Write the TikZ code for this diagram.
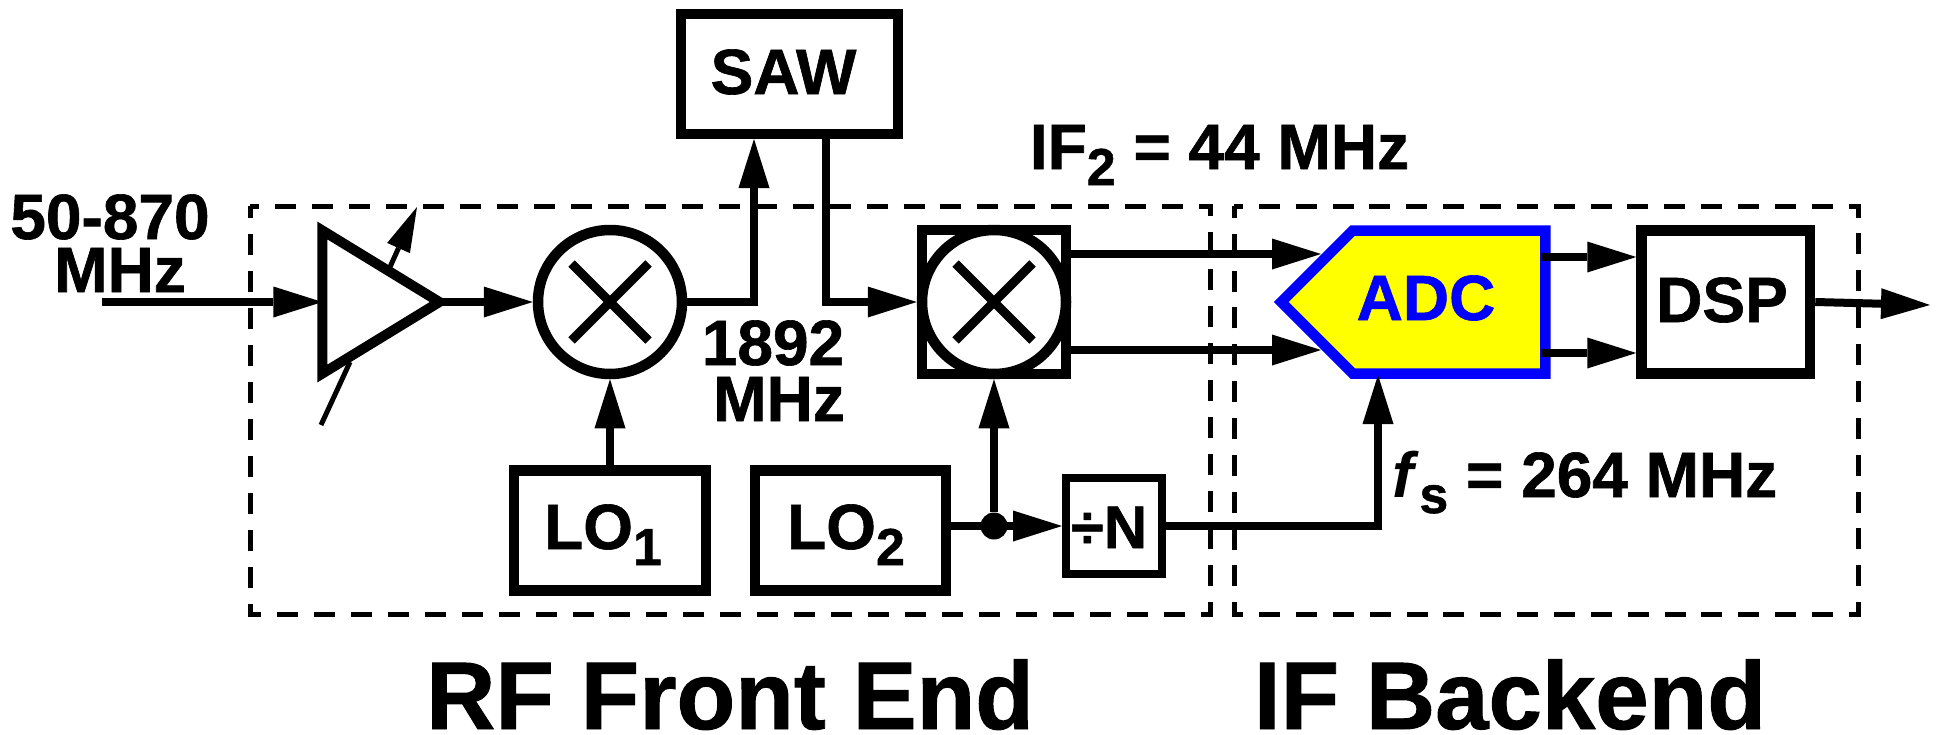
\documentclass[tikz,border=0pt]{standalone}
\usepackage{fontspec}
\setmainfont{Liberation Sans}[BoldFeatures={FakeBold=1}]
\usetikzlibrary{arrows.meta,shapes.geometric,shapes.misc,shapes.symbols}
\definecolor{adcfill}{RGB}{255,255,0}
\definecolor{adcline}{RGB}{0,0,255}
\newcommand{\subtxt}[1]{\raisebox{-8pt}{\fontsize{26}{26}\selectfont #1}}

\begin{document}
\begin{tikzpicture}[
    x=0.5pt,y=-0.5pt,
    box/.style={draw,line width=5.25pt,inner sep=0pt},
    mixer/.style={circle,draw,line width=5.25pt,inner sep=0pt,minimum size=72pt},
    crossx/.style={cross out,draw,line width=4.5pt,inner sep=0pt,minimum size=34pt},
    arr/.style={-{Triangle[length=24.5pt,width=15.5pt,line width=0pt]},line width=4pt},
    thinarr/.style={-{Triangle[length=22.5pt,width=12.5pt,line width=0pt]},line width=2.5pt},
    frame/.style={line width=2.5pt,dash pattern=on 10.5pt off #1,dash phase=6pt},
    lbl/.style={anchor=base,inner sep=0pt,font=\fontsize{32}{32}\selectfont\bfseries},
    title/.style={anchor=base,inner sep=0pt,font=\fontsize{48}{48}\selectfont\bfseries}
]
\useasboundingbox (0,0) rectangle (1939,734);

% dashed frames
\draw[frame=7.986pt] (250,206) -| (1210,614) -| cycle;
\draw[frame=7.93pt] (1234,206) -| (1858,614) -| cycle;

% blocks
\node[isosceles triangle,isosceles triangle stretches,draw,line width=5pt,inner sep=0pt,outer sep=0pt,
      minimum width=71.5pt,minimum height=58.5pt] (amp) at (362.5,302) {};
\node[mixer] (mix1) at (610,302) {};
\node[crossx] (mix1x) at (mix1) {};
\node[box,minimum width=72pt,minimum height=72pt] (mix2box) at (994,302) {};
\node[mixer] (mix2) at (994,302) {};
\node[crossx] (mix2x) at (mix2) {};
\node[box,minimum width=108.5pt,minimum height=60pt] (saw) at (789.5,74) {};
\node[box,minimum width=96pt,minimum height=60pt] (lo1) at (610,530.5) {};
\node[box,minimum width=95.5pt,minimum height=60pt] (lo2) at (850.5,530.5) {};
\node[box,line width=4pt,minimum width=47.75pt,minimum height=48pt] (divn) at (1113.75,526) {};
\node[signal,signal to=west,signal pointer angle=90,draw=adcline,fill=adcfill,line width=5.25pt,
      inner sep=0pt,minimum width=132pt,minimum height=71.5pt] (adc) at (1449,302) {};
\node[box,minimum width=84.25pt,minimum height=71.5pt] (dsp) at (1725.75,302) {};
\node[circle,fill=black,inner sep=0pt,minimum size=13.5pt] (dot) at (994,526) {};

% text
\node[lbl] (saw text) at (783.5,94) {SAW};
\node[lbl] (lo1 text) at (603,549) {LO\subtxt{1}};
\node[lbl] (lo2 text) at (846,549) {LO\subtxt{2}};
\node[lbl,font=\fontsize{30}{30}\selectfont\bfseries] (divn text) at (1109,548) {÷N};
\node[lbl,text=adcline] (adc text) at (1426,320) {ADC};
\node[lbl] (dsp text) at (1722,322) {DSP};
\node[lbl] (rf band) at (110,239) {50-870};
\node[lbl] (rf unit) at (120,292) {MHz};
\node[lbl] (if1 band) at (773,365) {1892};
\node[lbl] (if1 unit) at (779,421) {MHz};
\node[lbl] (if2 text) at (1219.5,169) {IF\subtxt{2} = 44 MHz};
\node[lbl] (fs text) at (1585,497) {\textit{f}\subtxt{s} = 264 MHz};
\node[title] (rf title) at (730,729) {RF Front End};
\node[title] (if title) at (1510,729) {IF Backend};

% free ends
\coordinate (rfin) at (102,302);
\coordinate (gainfrom) at (390,267);
\coordinate (gainto) at (417,207);
\coordinate (ctrlfrom) at (350,362);
\coordinate (ctrlto) at (321,425);
\coordinate (sawin) at (754,139);
\coordinate (sawout) at (826,139);
\coordinate (mix2i) at (1071,254);
\coordinate (mix2q) at (1071,350);
\coordinate (adci) at (1321,254);
\coordinate (adcq) at (1321,350);
\coordinate (adcclk) at (1378,375);
\coordinate (adcouti) at (1541,257);
\coordinate (adcoutq) at (1541,353);
\coordinate (dspout) at (1930,305);

\draw[arr] (rfin) -- (amp.lower side);
\draw[arr] (amp.apex) -- (mix1.west);
\draw[thinarr] (gainfrom) -- (gainto);
\draw[line width=2.5pt] (ctrlfrom) -- (ctrlto);
\draw[arr] (lo1.north) -- (mix1.south);
\draw[arr] (mix1.east) -| (sawin);
\draw[arr] (sawout) |- (mix2box.west);
\draw[arr] (dot) -- (mix2box.south);
\draw[arr] (lo2.east |- dot) -- (divn.west);
\draw[arr] (divn.east) -| (adcclk);
\draw[arr] (mix2i) -- (adci);
\draw[arr] (mix2q) -- (adcq);
\draw[arr] (adcouti) -- (adcouti -| dsp.west);
\draw[arr] (adcoutq) -- (adcoutq -| dsp.west);
\draw[arr] (dsp.east) -- (dspout);
\end{tikzpicture}
\end{document}
